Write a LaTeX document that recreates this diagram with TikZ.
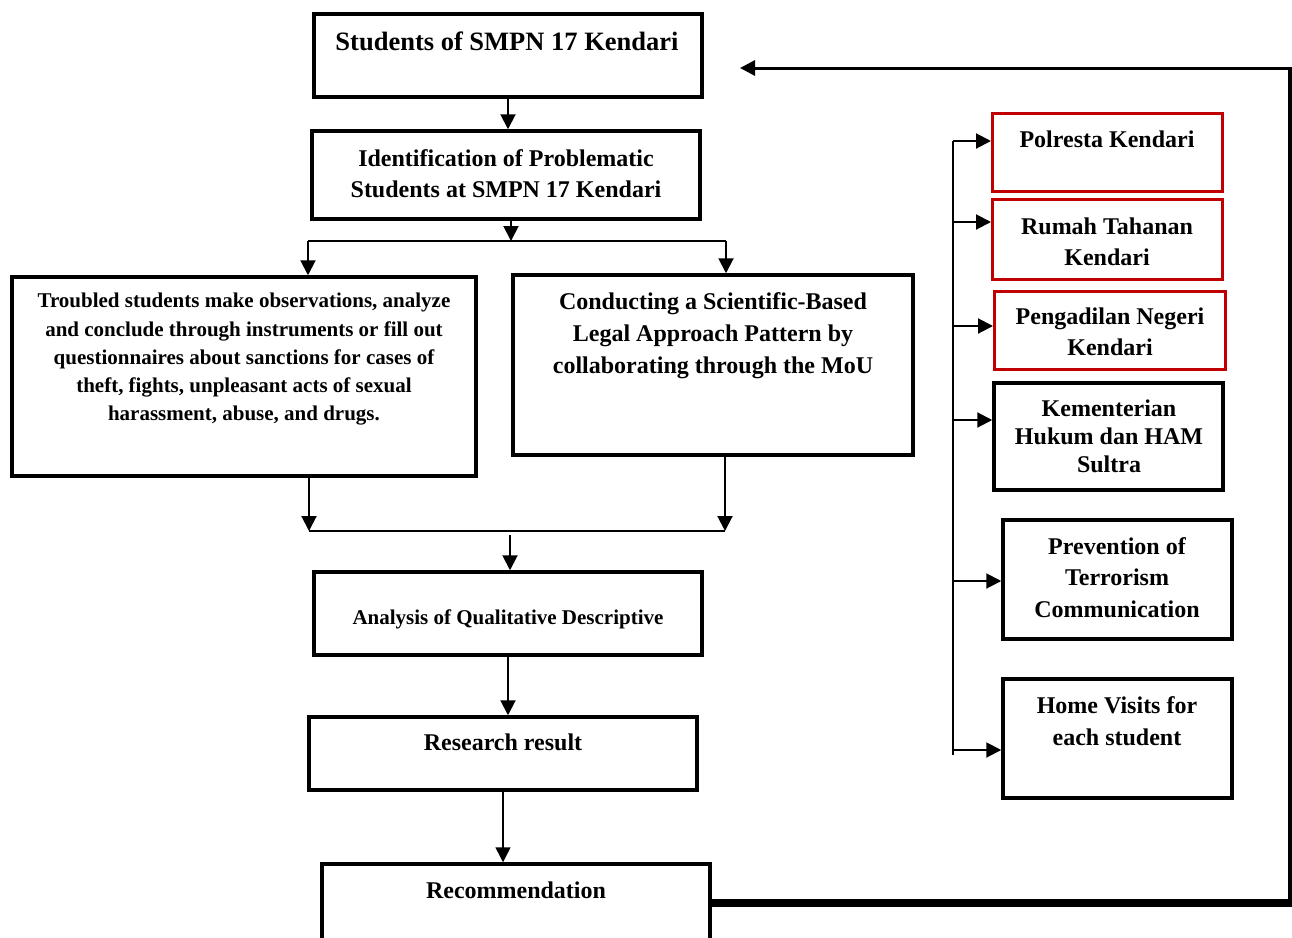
\documentclass[tikz,border=0pt]{standalone}
\usepackage{fontspec}
\setmainfont{Liberation Serif}
\usetikzlibrary{arrows.meta}

\definecolor{boxred}{RGB}{192,0,0}

\tikzset{
  box/.style={draw, line width=3.5pt, inner sep=0pt},
  redbox/.style={box, draw=boxred, line width=3pt},
  txt/.style 2 args={anchor=north, align=center, inner sep=0pt,
    font=\fontsize{#1}{#2}\selectfont\bfseries},
  link/.style={line width=2pt, -{Triangle[length=15pt,width=15pt]}},
}

\begin{document}
\begin{tikzpicture}[x=1pt, y=-1pt]
    \clip (0,0) rectangle (1292,937);

    % Main column
    \node[box, minimum width=388, minimum height=83] (students) at (508,55.5) {};
    \node[txt={26.5}{32}] (studentsT) at (507,32) {Students of SMPN 17 Kendari};

    \node[box, minimum width=388, minimum height=88] (ident) at (506,175) {};
    \node[txt={24}{31}] (identT) at (506,149) {Identification of Problematic\\Students at SMPN 17 Kendari};

    \node[box, minimum width=464, minimum height=199] (trouble) at (244,376.5) {};
    \node[txt={21}{28.3}] (troubleT) at (244,293) {Troubled students make observations, analyze\\
      and conclude through instruments or fill out\\
      questionnaires about sanctions for cases of\\
      theft, fights, unpleasant acts of sexual\\
      harassment, abuse, and drugs.};

    \node[box, minimum width=400, minimum height=180] (mou) at (713,365) {};
    \node[txt={24}{32}] (mouT) at (713,292) {Conducting a Scientific-Based\\
      Legal Approach Pattern by\\
      collaborating through the MoU};

    \node[box, minimum width=388, minimum height=83] (analysis) at (508,613.5) {};
    \node[txt={21}{28}] (analysisT) at (508,610) {Analysis of Qualitative Descriptive};

    \node[box, minimum width=388, minimum height=73] (result) at (503,753.5) {};
    \node[txt={24}{31}] (resultT) at (503,734) {Research result};

    \node[box, minimum width=388, minimum height=120] (recom) at (516,924) {};
    \node[txt={24}{31}] (recomT) at (516,882) {Recommendation};

    % Partner institutions
    \node[redbox, minimum width=230, minimum height=78] (polres) at (1107.5,152.5) {};
    \node[txt={24}{31}] (polresT) at (1107,131) {Polresta Kendari};

    \node[redbox, minimum width=230, minimum height=80] (rutan) at (1107.5,239.5) {};
    \node[txt={24}{31}] (rutanT) at (1107,218) {Rumah Tahanan\\Kendari};

    \node[redbox, minimum width=231, minimum height=78] (pn) at (1110,330.5) {};
    \node[txt={24}{31}] (pnT) at (1110,308) {Pengadilan Negeri\\Kendari};

    \node[box, minimum width=229, minimum height=107] (kemenkum) at (1108.5,436.5) {};
    \node[txt={24}{28}] (kemenkumT) at (1109,400) {Kementerian\\Hukum dan HAM\\Sultra};

    \node[box, minimum width=229, minimum height=119] (terror) at (1117.5,579.5) {};
    \node[txt={24}{31.5}] (terrorT) at (1117,537) {Prevention of\\Terrorism\\Communication};

    \node[box, minimum width=229, minimum height=119] (visit) at (1117.5,738.5) {};
    \node[txt={24}{32}] (visitT) at (1117,696) {Home Visits for\\each student};

    % Split below identification
    \coordinate (split) at (511,241);
    \coordinate (splitL) at (308,241);
    \coordinate (splitR) at (726,241);
    \draw[link] (students.south) -- (students.south |- ident.north);
    \draw[link] (split |- ident.south) -- (split);
    \draw[line width=2pt] (splitL) -- (splitR);
    \draw[link] (splitL) -- (splitL |- trouble.north);
    \draw[link] (splitR) -- (splitR |- mou.north);

    % Join towards analysis
    \coordinate (joinL) at (309,531);
    \coordinate (joinR) at (725,531);
    \coordinate (joinM) at (510,535);
    \draw[link] (joinL |- trouble.south) -- (joinL);
    \draw[link] (joinR |- mou.south) -- (joinR);
    \draw[line width=1.3pt] (joinL) -- (joinR);
    \draw[link] (joinM) -- (joinM |- analysis.north);
    \draw[link] (analysis.south) -- (analysis.south |- result.north);
    \draw[link, line width=1.5pt] (result.south) -- (result.south |- recom.north);

    % Bus to institutions
    \coordinate (busTop) at (953,141);
    \coordinate (busBot) at (953,755);
    \draw[line width=1.8pt] (busTop) -- (busBot);
    \foreach \inst/\yy in {polres/141, rutan/222, pn/326, kemenkum/420, terror/581, visit/750}{
        \coordinate (b-\inst) at (953,\yy);
        \draw[link] (b-\inst) -- (b-\inst -| \inst.west);
    }

    % Feedback loop
    \coordinate (fbBot) at (1290,903);
    \coordinate (fbTop) at (1290,68);
    \coordinate (fbEnd) at (740,68);
    \draw[line width=8pt] (recom.east |- fbBot) -- ([xshift=2pt]fbBot);
    \draw[line width=4pt] ([yshift=4pt]fbBot) -- ([yshift=-1.5pt]fbTop);
    \draw[link, line width=3pt] ([xshift=2pt]fbTop) -- (fbEnd);
\end{tikzpicture}
\end{document}
